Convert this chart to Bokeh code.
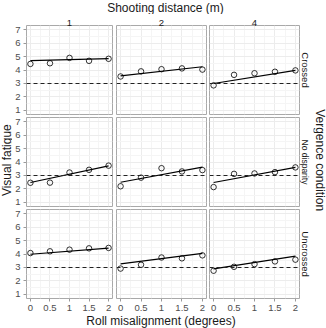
import math
from bokeh.plotting import figure
from bokeh.models import Span, Title, FixedTicker, Grid, GridPlot, Range1d
from bokeh.core.properties import value
from bokeh.embed import file_html
from bokeh.resources import INLINE

# ---------------- data ----------------
roll = [0, 0.5, 1, 1.5, 2]
distances = ["1", "2", "4"]
conditions = ["Crossed", "No disparity", "Uncrossed"]
y_ticks = [1, 2, 3, 4, 5, 6, 7]
reference_level = 3

crossed_d1 = [4.45, 4.50, 4.90, 4.68, 4.83]
crossed_d2 = [3.52, 3.90, 4.06, 4.12, 4.03]
crossed_d4 = [2.86, 3.64, 3.76, 3.87, 3.97]
nodisp_d1 = [2.46, 2.47, 3.22, 3.42, 3.73]
nodisp_d2 = [2.20, 2.84, 3.54, 3.30, 3.40]
nodisp_d4 = [2.14, 3.12, 3.15, 3.25, 3.60]
uncrossed_d1 = [4.07, 4.20, 4.32, 4.42, 4.45]
uncrossed_d2 = [2.92, 3.20, 3.74, 3.68, 3.90]
uncrossed_d4 = [2.76, 3.05, 3.25, 3.45, 3.58]

# fitted line values at roll = 0 and roll = 2, per distance (1, 2, 4)
fit_crossed_start = [4.69, 3.57, 3.00]
fit_crossed_end = [4.84, 4.24, 3.97]
fit_nodisp_start = [2.48, 2.50, 2.48]
fit_nodisp_end = [3.71, 3.62, 3.60]
fit_uncrossed_start = [3.98, 3.27, 2.90]
fit_uncrossed_end = [4.44, 4.04, 3.84]

points = [
    [crossed_d1, crossed_d2, crossed_d4],
    [nodisp_d1, nodisp_d2, nodisp_d4],
    [uncrossed_d1, uncrossed_d2, uncrossed_d4],
]
fit_start = [fit_crossed_start, fit_nodisp_start, fit_uncrossed_start]
fit_end = [fit_crossed_end, fit_nodisp_end, fit_uncrossed_end]

title_top = "Shooting distance (m)"
title_right = "Vergence condition"
title_left = "Visual fatigue"
title_bottom = "Roll misalignment (degrees)"

# ---------------- layout / style ----------------
FONT = "Liberation Sans"
W, H = 326, 328
LBL_L, LBL_R, LBL_T, LBL_B = 12, 13, 14, 15
col_w = [102, 93, 106]
row_h = [101, 92, 106]
left_b = [10, 2, 2]
right_b = [2, 1, 14]
top_b = [11, 2, 2]
bottom_b = [1, 1, 15]

x_minor = [(a + b) / 2 for a, b in zip(roll[:-1], roll[1:])]
y_minor = [(a + b) / 2 for a, b in zip(y_ticks[:-1], y_ticks[1:])]

children = []
for r in range(3):
    for c in range(3):
        p = figure(
            width=col_w[c], height=row_h[r],
            x_range=(-0.1, 2.1), y_range=(0.7, 7.3),
            toolbar_location=None, output_backend="svg", title=None,
            x_axis_location="below" if r == 2 else None,
            y_axis_location="left" if c == 0 else None,
            min_border_left=left_b[c], min_border_right=right_b[c],
            min_border_top=top_b[r], min_border_bottom=bottom_b[r],
        )
        p.background_fill_color = "white"
        p.border_fill_color = "white"
        p.outline_line_color = "#a9a9a9"
        p.outline_line_width = 1
        p.center = [g for g in p.center if not isinstance(g, Grid)]
        p.add_layout(Grid(dimension=0, ticker=FixedTicker(ticks=roll, minor_ticks=x_minor),
                          grid_line_color="#ececec", minor_grid_line_color="#f5f5f5"))
        p.add_layout(Grid(dimension=1, ticker=FixedTicker(ticks=y_ticks, minor_ticks=y_minor),
                          grid_line_color="#ececec", minor_grid_line_color="#f5f5f5"))

        if c == 0:
            p.yaxis[0].ticker = FixedTicker(ticks=y_ticks)
        if r == 2:
            ax = p.xaxis[0]
            ax.ticker = FixedTicker(ticks=roll)
            ax.major_label_overrides = {0: "0", 0.5: "0.5", 1: "1", 1.5: "1.5", 2: "2"}
        for ax in list(p.xaxis) + list(p.yaxis):
            ax.axis_line_color = None
            ax.major_tick_in = 0
            ax.major_tick_out = 3
            ax.major_tick_line_color = "#9a9a9a"
            ax.minor_tick_line_color = None
            ax.major_label_text_font = FONT
            ax.major_label_text_font_size = "9.5px"
            ax.major_label_text_color = "#4d4d4d"
            ax.major_label_standoff = 3

        if r == 0:
            p.add_layout(Title(text=distances[c], align="center", text_font=FONT,
                               text_font_size="9.5px", text_font_style="normal",
                               text_color="#1a1a1a", standoff=0), "above")
        if c == 2:
            p.add_layout(Title(text=conditions[r], align="center", text_font=FONT,
                               text_font_size="8.5px" if r == 1 else "9.5px",
                               text_font_style="normal",
                               text_color="#1a1a1a", standoff=1), "right")

        p.add_layout(Span(location=reference_level, dimension="width", line_color="#222222",
                          line_dash="4 3", line_width=1.1))
        p.line([roll[0], roll[-1]], [fit_start[r][c], fit_end[r][c]],
               line_color="black", line_width=1.2)
        p.scatter(roll, points[r][c], marker="circle", size=5.5, fill_color=None,
                  line_color="black", line_width=0.8)
        children.append((p, r + 1, c + 1))


def label_fig(w, h, x0, y0, x, y, text, angle):
    # a blank figure whose ranges are page pixels, holding one outer title
    f = figure(width=w, height=h, x_range=Range1d(x0, x0 + w), y_range=Range1d(y0 + h, y0),
               toolbar_location=None, output_backend="svg", title=None,
               x_axis_location=None, y_axis_location=None,
               min_border_left=0, min_border_right=0, min_border_top=0, min_border_bottom=0)
    f.outline_line_color = None
    f.background_fill_color = "white"
    f.border_fill_color = "white"
    f.grid.visible = False
    f.text([x], [y], text=[text], angle=angle, text_font=value(FONT),
           text_font_size=value("12px"), text_color="#1a1a1a",
           text_align="center", text_baseline="middle")
    return f


inner_h = sum(row_h)
top = label_fig(W, LBL_T, 0, 0, 165, 7.5, title_top, 0)
bottom = label_fig(W, LBL_B, 0, H - LBL_B, 160.5, 320.5, title_bottom, 0)
left = label_fig(LBL_L, inner_h, 0, LBL_T, 6, 161.5, title_left, math.pi / 2)
right = label_fig(LBL_R, inner_h, W - LBL_R, LBL_T, 319.5, 161.5, title_right, -math.pi / 2)

children += [
    (top, 0, 0, 1, 5),
    (bottom, 4, 0, 1, 5),
    (left, 1, 0, 3, 1),
    (right, 1, 4, 3, 1),
]

grid = GridPlot(children=children, toolbar_location=None)
open("out.html", "w").write(file_html(grid, INLINE))
